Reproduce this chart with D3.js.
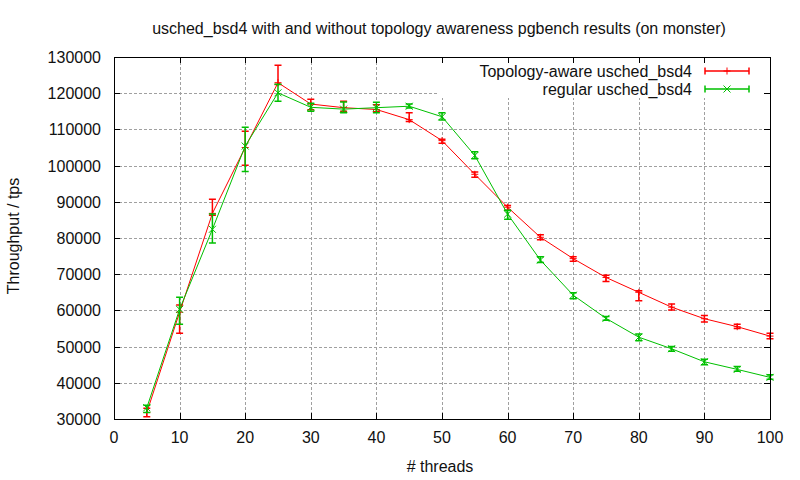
<!DOCTYPE html>
<html>
<head>
<meta charset="utf-8">
<script src="https://cdn.jsdelivr.net/npm/d3@7"></script>
<style>
  body { margin: 0; background: #fff; }
  text { font-family: "Liberation Sans", Arial, sans-serif; fill: #111; }
</style>
</head>
<body>
<script>
(function () {

    //data
    var threads = [5, 10, 15, 20, 25, 30, 35, 40, 45, 50, 55, 60, 65, 70, 75, 80, 85, 90, 95, 100];

    //topology-aware usched_bsd4: value, low, high
    var awareY = [31800, 59500, 86800, 105000, 122900, 117000, 116000, 115500, 112700, 106900,
        97600, 88500, 80200, 74300, 69100, 65000, 60900, 57700, 55500, 52900];
    var awareLow = [30600, 53700, 86300, 100100, 122400, 115400, 115000, 114900, 112200, 106200,
        96800, 87700, 79500, 73600, 68000, 62700, 60100, 56800, 55000, 52200];
    var awareHigh = [33000, 61500, 90700, 109500, 127700, 118300, 117800, 116800, 114600, 107300,
        98200, 89000, 80900, 74800, 69700, 65400, 61800, 58600, 56200, 53700];

    //regular usched_bsd4: value, low, high
    var regularY = [33100, 60300, 82400, 105400, 120100, 116100, 115600, 116000, 116400, 113500,
        102800, 86600, 73900, 64200, 57800, 52600, 49400, 45800, 43700, 41500];
    var regularLow = [31800, 56200, 78600, 98400, 117800, 115000, 114600, 114600, 115900, 112600,
        101900, 85200, 73200, 63200, 57300, 51600, 48700, 45000, 43200, 41000];
    var regularHigh = [33800, 63600, 86600, 110600, 122500, 117200, 117600, 117500, 117000, 114600,
        103800, 87700, 74800, 64900, 58300, 53500, 50000, 46500, 44500, 42200];

    var xTicks = [0, 10, 20, 30, 40, 50, 60, 70, 80, 90, 100];
    var yTicks = [30000, 40000, 50000, 60000, 70000, 80000, 90000, 100000, 110000, 120000, 130000];

    var seriesNames = ["Topology-aware usched_bsd4", "regular usched_bsd4"];
    var seriesColors = ["#ff0000", "#00c000"];

    //frame
    var width = 800,
        height = 480,
        left = 114,
        right = 770,
        top = 57,
        bottom = 419,
        fontSize = 16;

    var svg = d3.select("body")
        .append("svg")
        .attr("width", width)
        .attr("height", height);

    var x = d3.scaleLinear().domain([0, 100]).range([left, right]);
    var y = d3.scaleLinear().domain([30000, 130000]).range([bottom, top]);

    //grid
    var grid = svg.append("g")
        .attr("stroke", "#a0a0a0")
        .attr("stroke-dasharray", "3,2")
        .attr("shape-rendering", "crispEdges");

    grid.selectAll(".vgrid")
        .data(xTicks.slice(1, -1))
        .enter()
        .append("line")
        .attr("x1", function (d) { return Math.round(x(d)) + 0.5; })
        .attr("x2", function (d) { return Math.round(x(d)) + 0.5; })
        .attr("y1", top)
        .attr("y2", bottom);

    grid.selectAll(".hgrid")
        .data(yTicks.slice(1, -1))
        .enter()
        .append("line")
        .attr("y1", function (d) { return Math.round(y(d)) + 0.5; })
        .attr("y2", function (d) { return Math.round(y(d)) + 0.5; })
        .attr("x1", left)
        .attr("x2", right);

    //key area hides the grid
    svg.append("rect")
        .attr("x", 437)
        .attr("y", top + 1)
        .attr("width", right - 437 - 1)
        .attr("height", 40)
        .attr("fill", "#fff");

    //series
    var series = [
        { y: awareY, lo: awareLow, hi: awareHigh, color: seriesColors[0], mark: "plus" },
        { y: regularY, lo: regularLow, hi: regularHigh, color: seriesColors[1], mark: "cross" }
    ];

    var line = d3.line()
        .x(function (d) { return x(d[0]); })
        .y(function (d) { return y(d[1]); });

    var cap = 3.5, ms = 3.5;

    function drawMark(g, cx, cy, kind) {
        if (kind == "plus") {
            g.append("path")
                .attr("d", "M" + (cx - ms) + "," + cy + "H" + (cx + ms) + "M" + cx + "," + (cy - ms) + "V" + (cy + ms));
        } else {
            g.append("path")
                .attr("d", "M" + (cx - ms) + "," + (cy - ms) + "L" + (cx + ms) + "," + (cy + ms) +
                    "M" + (cx - ms) + "," + (cy + ms) + "L" + (cx + ms) + "," + (cy - ms));
        }
    }

    series.forEach(function (s) {
        var pts = threads.map(function (t, i) { return [t, s.y[i], s.lo[i], s.hi[i]]; });
        var g = svg.append("g")
            .attr("stroke", s.color)
            .attr("fill", "none")
            .attr("stroke-width", 1);

        g.append("path")
            .datum(pts)
            .attr("d", line);

        //error bars with caps
        pts.forEach(function (p) {
            var px = x(p[0]), yl = y(p[2]), yh = y(p[3]);
            g.append("path")
                .attr("stroke-width", 1.5)
                .attr("d", "M" + px + "," + yl + "V" + yh +
                    "M" + (px - cap) + "," + yl + "H" + (px + cap) +
                    "M" + (px - cap) + "," + yh + "H" + (px + cap));
            drawMark(g, px, y(p[1]), s.mark);
        });
    });

    //border
    svg.append("rect")
        .attr("x", left + 0.5)
        .attr("y", top + 0.5)
        .attr("width", right - left)
        .attr("height", bottom - top)
        .attr("fill", "none")
        .attr("stroke", "#000")
        .attr("shape-rendering", "crispEdges");

    //ticks on all sides, pointing inward
    var ticks = svg.append("g")
        .attr("stroke", "#000")
        .attr("shape-rendering", "crispEdges");

    xTicks.forEach(function (t) {
        var px = Math.round(x(t)) + 0.5;
        ticks.append("line").attr("x1", px).attr("x2", px).attr("y1", bottom).attr("y2", bottom - 6);
        ticks.append("line").attr("x1", px).attr("x2", px).attr("y1", top).attr("y2", top + 6);
    });
    yTicks.forEach(function (t) {
        var py = Math.round(y(t)) + 0.5;
        ticks.append("line").attr("y1", py).attr("y2", py).attr("x1", left).attr("x2", left + 6);
        ticks.append("line").attr("y1", py).attr("y2", py).attr("x1", right).attr("x2", right - 6);
    });

    //tick labels
    svg.selectAll(".xlab")
        .data(xTicks)
        .enter()
        .append("text")
        .attr("x", function (d) { return x(d); })
        .attr("y", 443)
        .attr("text-anchor", "middle")
        .attr("font-size", fontSize)
        .text(function (d) { return d; });

    svg.selectAll(".ylab")
        .data(yTicks)
        .enter()
        .append("text")
        .attr("x", 101)
        .attr("y", function (d) { return y(d) + 6; })
        .attr("text-anchor", "end")
        .attr("font-size", fontSize)
        .text(function (d) { return d; });

    //titles
    svg.append("text")
        .attr("x", 439)
        .attr("y", 34)
        .attr("text-anchor", "middle")
        .attr("font-size", fontSize)
        .text("usched_bsd4 with and without topology awareness pgbench results (on monster)");

    svg.append("text")
        .attr("x", 440)
        .attr("y", 472)
        .attr("text-anchor", "middle")
        .attr("font-size", fontSize)
        .text("# threads");

    svg.append("text")
        .attr("transform", "translate(19,236) rotate(-90)")
        .attr("text-anchor", "middle")
        .attr("font-size", fontSize)
        .text("Throughput / tps");

    //key
    var keyRows = [71, 89];
    seriesNames.forEach(function (name, i) {
        var ky = keyRows[i];
        svg.append("text")
            .attr("x", 692)
            .attr("y", ky + 6)
            .attr("text-anchor", "end")
            .attr("font-size", fontSize)
            .text(name);
        var g = svg.append("g")
            .attr("stroke", seriesColors[i])
            .attr("fill", "none");
        g.append("path")
            .attr("stroke-width", 1.5)
            .attr("d", "M705," + ky + "H749" +
                "M705," + (ky - cap) + "V" + (ky + cap) +
                "M749," + (ky - cap) + "V" + (ky + cap));
        drawMark(g, 727, ky, series[i].mark);
    });
})();
</script>
</body>
</html>
